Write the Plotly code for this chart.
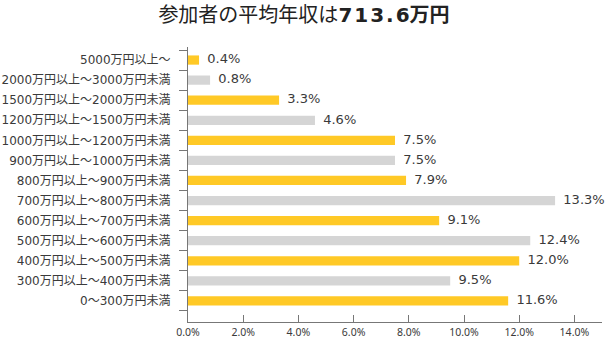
import plotly.graph_objects as go

categories = [
    "5000万円以上～",
    "2000万円以上～3000万円未満",
    "1500万円以上～2000万円未満",
    "1200万円以上～1500万円未満",
    "1000万円以上～1200万円未満",
    "900万円以上～1000万円未満",
    "800万円以上～900万円未満",
    "700万円以上～800万円未満",
    "600万円以上～700万円未満",
    "500万円以上～600万円未満",
    "400万円以上～500万円未満",
    "300万円以上～400万円未満",
    "0～300万円未満",
]
values = [0.4, 0.8, 3.3, 4.6, 7.5, 7.5, 7.9, 13.3, 9.1, 12.4, 12.0, 9.5, 11.6]
x_tickvals = [0, 2, 4, 6, 8, 10, 12, 14]
x_ticktext = ["0.0%", "2.0%", "4.0%", "6.0%", "8.0%", "10.0%", "12.0%", "14.0%"]

YELLOW = "#FFC926"
GRAY = "#D5D5D5"
bar_colors = [YELLOW if i % 2 == 0 else GRAY for i in range(len(categories))]
labels = ["  %.1f%%" % v for v in values]

TEXT = "#3a3a3a"
AXIS = "#777777"
JP = "Noto Sans CJK JP, Noto Sans, sans-serif"

fig = go.Figure()
fig.add_trace(go.Bar(
    x=values,
    y=categories,
    orientation="h",
    marker=dict(color=bar_colors, line=dict(width=0)),
    hoverinfo="skip",
))
fig.add_trace(go.Scatter(
    x=values,
    y=categories,
    mode="text",
    text=labels,
    textposition="middle right",
    textfont=dict(size=13, color=TEXT, family="DejaVu Sans, sans-serif"),
    cliponaxis=False,
    hoverinfo="skip",
))

hs = "\u200a"
title_num = hs.join("713.6")

fig.update_layout(
    width=608, height=341,
    margin=dict(l=188, r=6, t=47, b=19),
    paper_bgcolor="white", plot_bgcolor="white",
    bargap=0.54,
    showlegend=False,
    title=dict(
        text="参加者の平均年収は<b><span style='font-family:DejaVu Sans;font-size:20px'>"
             + title_num + "</span>万円</b>",
        x=0.5, xref="container", xanchor="center",
        y=0.955, yref="container", yanchor="middle",
        font=dict(size=20, color="#222222", family=JP),
    ),
    font=dict(family=JP, color=TEXT),
)

fig.update_xaxes(
    range=[0, 15],
    tickvals=x_tickvals, ticktext=x_ticktext,
    ticks="inside", ticklen=7, tickcolor=AXIS,
    showline=True, linecolor=AXIS, linewidth=1,
    showgrid=False, zeroline=False,
    tickfont=dict(size=10.5, color=TEXT, family="Noto Sans, sans-serif"),
    automargin=False,
    fixedrange=True,
)
fig.update_yaxes(
    categoryorder="array", categoryarray=categories[::-1],
    range=[-1.05, 12.65],
    ticks="outside", ticklen=8, tickcolor=AXIS, tickson="boundaries",
    showline=True, linecolor=AXIS, linewidth=1,
    showgrid=False, zeroline=False,
    tickfont=dict(size=12, color=TEXT, family="DejaVu Sans, Noto Sans CJK JP, sans-serif"),
    ticklabelstandoff=14,
    automargin=False,
    fixedrange=True,
)

fig.write_html("out.html")
